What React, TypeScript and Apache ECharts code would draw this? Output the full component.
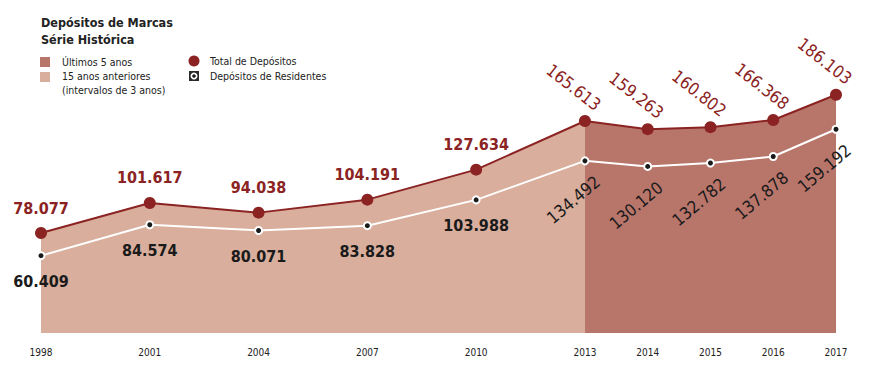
import React, { useEffect, useRef } from "react";
import * as echarts from "echarts";

const years = ["1998", "2001", "2004", "2007", "2010", "2013", "2014", "2015", "2016", "2017"];
const totalDeposits = [78077, 101617, 94038, 104191, 127634, 165613, 159263, 160802, 166368, 186103];
const residentDeposits = [60409, 84574, 80071, 83828, 103988, 134492, 130120, 132782, 137878, 159192];
// number of "3-year" points before the yearly section begins
const triennialCount = 6;
// a yearly step, relative to a 3-year step on the axis
const yearlyStepRatio = 0.577;

const FONT = "'DejaVu Sans Condensed', 'Liberation Sans Narrow', 'Open Sans', sans-serif";
const RED = "#8b2323";
const LIGHT = "#d9ae9c";
const DARK = "#b8756a";

function axisPos(i: number): number {
  if (i < triennialCount) return i;
  return triennialCount - 1 + (i - (triennialCount - 1)) * yearlyStepRatio;
}

function fmt(v: number): string {
  return v.toString().replace(/\B(?=(\d{3})+(?!\d))/g, ".");
}

export default function App() {
  const ref = useRef<HTMLDivElement>(null);
  useEffect(() => {
    if (!ref.current) return;
    const chart = echarts.init(ref.current, undefined, { renderer: "svg" });
    const xs = years.map((_, i) => axisPos(i));
    const xMax = xs[xs.length - 1];
    const rotated = (i: number) => i >= triennialCount - 1;

    const lightData = totalDeposits.map((v, i) => (i < triennialCount ? [xs[i], v] : [xs[i], null]));
    const darkData = totalDeposits.map((v, i) => (i >= triennialCount - 1 ? [xs[i], v] : [xs[i], null]));

    const totalData = totalDeposits.map((v, i) => ({
      value: [xs[i], v],
      label: rotated(i)
        ? {
            position: "top",
            distance: 0,
            rotate: -38,
            align: "center",
            verticalAlign: "middle",
            offset: [-26, -15],
            fontWeight: "normal",
            fontSize: 17,
          }
        : { position: "top", distance: 11, fontWeight: "bold", fontSize: 16 },
    }));
    const residentData = residentDeposits.map((v, i) => ({
      value: [xs[i], v],
      label: rotated(i)
        ? {
            position: "bottom",
            distance: 0,
            rotate: 40,
            align: "center",
            verticalAlign: "middle",
            offset: [-31, 19],
            fontWeight: "normal",
            fontSize: 17,
          }
        : { position: "bottom", distance: 13, fontWeight: "bold", fontSize: 16 },
    }));

    chart.setOption({
      animation: false,
      grid: { left: 41, right: 33, top: 77, bottom: 55 },
      xAxis: {
        type: "value",
        min: 0,
        max: xMax,
        axisLine: { show: false },
        axisTick: { show: false },
        splitLine: { show: false },
        axisLabel: {
          customValues: xs,
          margin: 14,
          fontSize: 10,
          fontFamily: FONT,
          color: "#222",
          formatter: (val: number) => {
            const idx = xs.findIndex((p) => Math.abs(p - val) < 1e-6);
            return idx >= 0 ? years[idx] : "";
          },
        },
      },
      yAxis: {
        type: "value",
        min: 0,
        max: 200000,
        show: false,
        splitLine: { show: false },
      },
      series: [
        {
          type: "line",
          data: lightData,
          showSymbol: false,
          lineStyle: { width: 0 },
          areaStyle: { color: LIGHT, opacity: 1 },
          z: 1,
          silent: true,
        },
        {
          type: "line",
          data: darkData,
          showSymbol: false,
          lineStyle: { width: 0 },
          areaStyle: { color: DARK, opacity: 1 },
          z: 1,
          silent: true,
        },
        {
          type: "line",
          name: "Depósitos de Residentes",
          data: residentData,
          symbol: "circle",
          symbolSize: 7,
          itemStyle: { color: "#1a1a1a", borderColor: "#fff", borderWidth: 2 },
          lineStyle: { color: "#fff", width: 2 },
          label: {
            show: true,
            formatter: (p: any) => fmt(p.value[1]),
            color: "#1a1a1a",
            fontFamily: FONT,
          },
          z: 3,
        },
        {
          type: "line",
          name: "Total de Depósitos",
          data: totalData,
          symbol: "circle",
          symbolSize: 12,
          itemStyle: { color: RED },
          lineStyle: { color: RED, width: 2 },
          label: {
            show: true,
            formatter: (p: any) => fmt(p.value[1]),
            color: RED,
            fontFamily: FONT,
          },
          z: 4,
        },
      ],
      graphic: [
        {
          type: "text",
          left: 41,
          top: 14,
          style: {
            text: "Depósitos de Marcas\nSérie Histórica",
            font: `bold 12.5px ${FONT}`,
            fill: "#222",
            lineHeight: 17,
          },
        },
        { type: "rect", shape: { x: 40, y: 57, width: 10, height: 10 }, style: { fill: DARK } },
        { type: "rect", shape: { x: 40, y: 72, width: 10, height: 10 }, style: { fill: LIGHT } },
        {
          type: "text",
          x: 62,
          y: 62,
          style: { text: "Últimos 5 anos", font: `10.5px ${FONT}`, fill: "#222", verticalAlign: "middle" },
        },
        {
          type: "text",
          x: 62,
          y: 76,
          style: { text: "15 anos anteriores", font: `10.5px ${FONT}`, fill: "#222", verticalAlign: "middle" },
        },
        {
          type: "text",
          x: 62,
          y: 90,
          style: { text: "(intervalos de 3 anos)", font: `10.5px ${FONT}`, fill: "#222", verticalAlign: "middle" },
        },
        { type: "circle", shape: { cx: 194, cy: 61, r: 5.5 }, style: { fill: RED } },
        { type: "rect", shape: { x: 189, y: 71, width: 10, height: 10 }, style: { fill: "#2a2a2a" } },
        { type: "circle", shape: { cx: 194, cy: 76, r: 3.5 }, style: { fill: "#fff" } },
        { type: "circle", shape: { cx: 194, cy: 76, r: 1.8 }, style: { fill: "#1a1a1a" } },
        {
          type: "text",
          x: 210,
          y: 61,
          style: { text: "Total de Depósitos", font: `10.5px ${FONT}`, fill: "#222", verticalAlign: "middle" },
        },
        {
          type: "text",
          x: 210,
          y: 76,
          style: { text: "Depósitos de Residentes", font: `10.5px ${FONT}`, fill: "#222", verticalAlign: "middle" },
        },
      ],
    });
    return () => chart.dispose();
  }, []);

  return (
    <div
      ref={ref}
      style={{ position: "absolute", left: 0, top: 0, width: 869, height: 388, background: "#fff" }}
    />
  );
}
